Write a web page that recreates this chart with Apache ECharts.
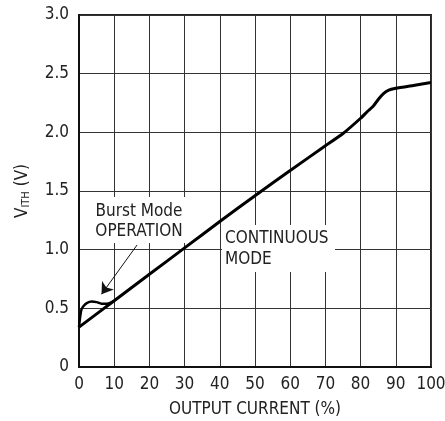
<!DOCTYPE html>
<html>
<head>
<meta charset="utf-8">
<script src="https://cdn.jsdelivr.net/npm/echarts@6/dist/echarts.min.js"></script>
<style>
html,body{margin:0;padding:0;background:#fff;}
#c{width:445px;height:421px;}
</style>
</head>
<body>
<div id="c"></div>
<script>
// Data
const xTicks = [0, 10, 20, 30, 40, 50, 60, 70, 80, 90, 100];
const yTicks = [0, 0.5, 1.0, 1.5, 2.0, 2.5, 3.0];

// Continuous-mode curve
const xMain = [0, 10, 20, 30, 40, 50, 60, 70, 75, 80, 82, 83.5, 85, 86.5, 88, 90, 95, 100];
const yMain = [0.34, 0.565, 0.79, 1.015, 1.24, 1.46, 1.675, 1.885, 1.99, 2.12, 2.18, 2.22, 2.28, 2.33, 2.36, 2.375, 2.40, 2.425];

// Burst Mode operation curve
const xBurst = [0, 0.3, 0.7, 1.3, 2.2, 3.6, 5.0, 6.4, 7.9, 9.3, 10];
const yBurst = [0.34, 0.42, 0.49, 0.52, 0.545, 0.558, 0.553, 0.54, 0.538, 0.553, 0.565];

// Annotation arrow (data coordinates)
const arrowFrom = [16.5, 1.04];
const arrowTo = [6.4, 0.62];

const FONT = '"DejaVu Sans Condensed", "Liberation Sans Narrow", "Liberation Sans", sans-serif';

const chart = echarts.init(document.getElementById('c'), null, {renderer: 'canvas'});
chart.setOption({
  animation: false,
  backgroundColor: '#fff',
  grid: {
    left: 79, top: 15, width: 352, height: 352,
    show: true, borderColor: '#222', borderWidth: 2,
    containLabel: false, outerBoundsMode: 'none'
  },
  xAxis: {
    type: 'value', min: xTicks[0], max: xTicks[xTicks.length - 1], interval: 10,
    axisLine: {show: true, lineStyle: {color: '#111', width: 2}},
    axisTick: {show: false},
    splitLine: {show: true, lineStyle: {color: '#333', width: 1}},
    axisLabel: {color: '#222', fontFamily: FONT, fontSize: 17, margin: 9},
    name: 'OUTPUT CURRENT (%)',
    nameLocation: 'middle', nameGap: 34,
    nameTextStyle: {color: '#222', fontFamily: FONT, fontSize: 17}
  },
  yAxis: {
    type: 'value', min: yTicks[0], max: yTicks[yTicks.length - 1], interval: 0.5,
    axisLine: {show: true, lineStyle: {color: '#111', width: 2}},
    axisTick: {show: false},
    splitLine: {show: true, lineStyle: {color: '#333', width: 1}},
    axisLabel: {
      color: '#222', fontFamily: FONT, fontSize: 17, margin: 10,
      formatter: v => (v === 0 ? '0' : v.toFixed(1))
    },
    name: '{v|V}{s|ITH}{v| (V)}',
    nameLocation: 'middle', nameGap: 47, nameRotate: 90,
    nameTextStyle: {
      color: '#222', fontFamily: FONT, fontSize: 17,
      rich: {
        v: {fontFamily: FONT, fontSize: 17, lineHeight: 18, color: '#222'},
        s: {fontFamily: FONT, fontSize: 11, lineHeight: 11, color: '#222', verticalAlign: 'bottom'}
      }
    }
  },
  graphic: [
    {type: 'rect', z: 1, shape: {x: 86, y: 197, width: 102, height: 46}, style: {fill: '#fff'}},
    {type: 'text', z: 2, x: 139, y: 212, style: {text: 'Burst Mode', fontFamily: FONT, fontSize: 17, fill: '#222', align: 'center', verticalAlign: 'middle'}},
    {type: 'text', z: 2, x: 139, y: 232, style: {text: 'OPERATION', fontFamily: FONT, fontSize: 17, fill: '#222', align: 'center', verticalAlign: 'middle'}},
    {type: 'rect', z: 1, shape: {x: 222, y: 225, width: 113, height: 47}, style: {fill: '#fff'}},
    {type: 'text', z: 2, x: 225, y: 239, style: {text: 'CONTINUOUS', fontFamily: FONT, fontSize: 17, fill: '#222', align: 'left', verticalAlign: 'middle'}},
    {type: 'text', z: 2, x: 225, y: 260, style: {text: 'MODE', fontFamily: FONT, fontSize: 17, fill: '#222', align: 'left', verticalAlign: 'middle'}}
  ],
  series: [
    {
      type: 'line', name: 'continuous', z: 5,
      data: xMain.map((x, i) => [x, yMain[i]]),
      showSymbol: false, smooth: 0.15,
      lineStyle: {color: '#000', width: 3}
    },
    {
      type: 'line', name: 'burst', z: 5,
      data: xBurst.map((x, i) => [x, yBurst[i]]),
      showSymbol: false, smooth: 0.3,
      lineStyle: {color: '#000', width: 2.5},
      markLine: {
        silent: true, symbol: ['none', 'arrow'], symbolSize: 11,
        label: {show: false},
        lineStyle: {color: '#111', width: 1, type: 'solid'},
        itemStyle: {color: '#111'},
        data: [[{coord: arrowFrom}, {coord: arrowTo}]]
      }
    }
  ]
});
</script>
</body>
</html>
